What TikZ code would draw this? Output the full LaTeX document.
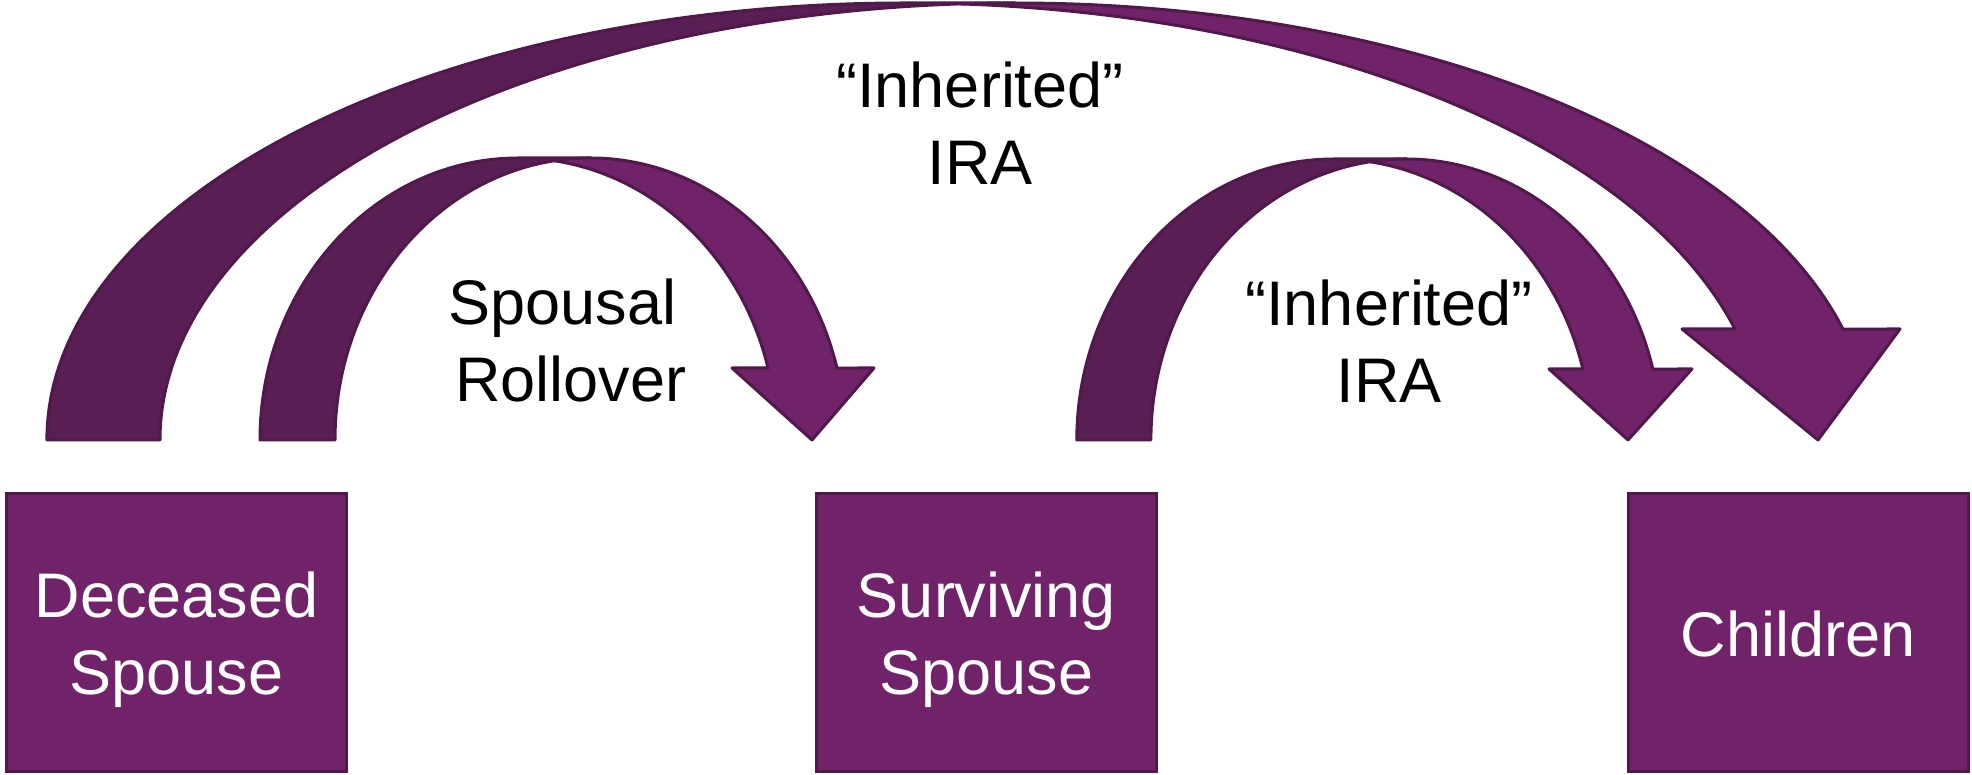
\documentclass[tikz,border=0pt]{standalone}
\usepackage{fontspec}
\setmainfont{Liberation Sans}
\usetikzlibrary{calc}

\definecolor{plumfront}{RGB}{112,35,104}
\definecolor{plumback}{RGB}{89,30,84}
\definecolor{plumedge}{RGB}{80,24,75}

\tikzset{
  band/.style={draw=plumedge, line width=3pt, line join=round},
  backband/.style={band, fill=plumback},
  frontband/.style={band, fill=plumfront},
  plumbox/.style={draw=plumedge, fill=plumfront, line width=3pt,
    minimum width=340pt, minimum height=278pt, inner sep=0pt},
  bigtext/.style={font=\fontsize{63pt}{77pt}\selectfont, align=center, inner sep=0pt},
  boxtext/.style={bigtext, text=white},
  flowtext/.style={bigtext, text=black},
}

% Curved block arrow built from two half-ellipses standing on \arrowbase.
% #1,#2: centre x and x-radius of the outer-left ellipse
% #3,#4: centre x and x-radius of the inner-left ellipse
% #5: common y-radius, #6: height of the head base
% #7,#8: left and right head corners, #9: x of the tip
\newcommand{\arrowbase}{334}
\newcommand{\curvedblockarrow}[9]{%
  \pgfmathsetmacro{\crossA}{acos((#3-#1)/(#2+#4))}%
  \pgfmathsetmacro{\crossB}{180-\crossA}%
  \pgfmathsetmacro{\headang}{asin((#6-\arrowbase)/#5)}%
  % rear half (left leg), flat across the crown
  \filldraw[backband] ({#1-#2},\arrowbase)
    arc[start angle=180, end angle=90, x radius=#2, y radius=#5]
    -- (#3,{\arrowbase+#5})
    arc[start angle=90, end angle=180, x radius=#4, y radius=#5] -- cycle;
  % front half with the head
  \filldraw[frontband] ({#3+#4*cos(\crossB)},{\arrowbase+#5*sin(\crossB)})
    arc[start angle=\crossB, end angle=\headang, x radius=#4, y radius=#5]
    -- (#8,#6) -- (#9,\arrowbase) -- (#7,#6)
    -- ({#1+#2*cos(\headang)},#6)
    arc[start angle=\headang, end angle=\crossA, x radius=#2, y radius=#5] -- cycle;
}

\begin{document}
\begin{tikzpicture}[x=1pt, y=1pt]
  \useasboundingbox (0,0) rectangle (1972,774);

  % long arc: deceased spouse to children
  \curvedblockarrow{905}{858.1}{1015.5}{855.5}{437}{445}{1682}{1900}{1818}
  % deceased spouse to surviving spouse
  \curvedblockarrow{518.3}{258.3}{590.2}{255.2}{282}{406}{732}{874}{812}
  % surviving spouse to children
  \curvedblockarrow{1334}{257.2}{1406}{255.1}{281}{405}{1549}{1692}{1628}

  % the three parties
  \node[plumbox] (deceased)  at (176.5,141.5) {};
  \node[plumbox] (surviving) at (986.5,141.5) {};
  \node[plumbox] (children)  at (1798,141.5) {};

  \node[boxtext] (deceasedname)  at ([yshift=-7.5pt]deceased.center)  {Deceased\\Spouse};
  \node[boxtext] (survivingname) at ([yshift=-7.5pt]surviving.center) {Surviving\\Spouse};
  \node[boxtext] (childrenname)  at ([yshift=-1pt]children.center)    {Children};

  % arrow captions
  \node[flowtext] (rollover)       at (571,433.5)  {Spousal\hspace*{17pt}\\Rollover};
  \node[flowtext] (inheritedtop)   at (980,650.5)  {“Inherited”\\IRA};
  \node[flowtext] (inheritedright) at (1389,432.5) {“Inherited”\\IRA};
\end{tikzpicture}
\end{document}
